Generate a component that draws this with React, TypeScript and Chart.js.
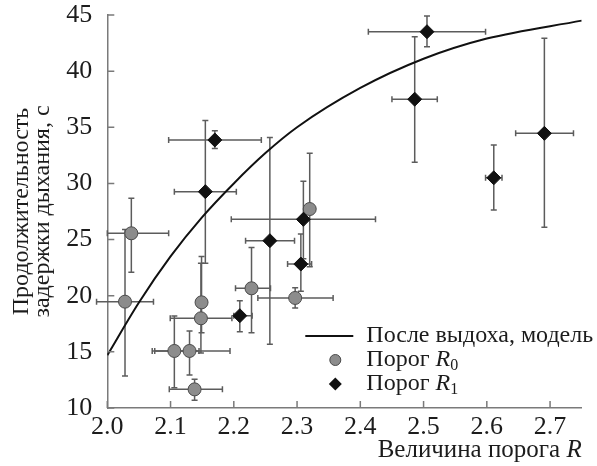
import React, { useEffect, useRef } from 'react';
import { Chart, registerables } from 'chart.js';

Chart.register(...registerables);

// ---- data ----
const xTicks = [2.0, 2.1, 2.2, 2.3, 2.4, 2.5, 2.6, 2.7];
const yTicks = [10, 15, 20, 25, 30, 35, 40, 45];

// model curve, points
const modelX = [2.0, 2.05, 2.1, 2.15, 2.2, 2.25, 2.3, 2.4, 2.5, 2.6, 2.75];
const modelY = [14.7, 19.4, 23.5, 27.0, 30.0, 32.7, 35.0, 38.5, 41.1, 42.9, 44.5];

// threshold R0 (grey circles)
const r0X = [2.028, 2.038, 2.106, 2.13, 2.138, 2.148, 2.149, 2.228, 2.297, 2.32];
const r0Y = [19.47, 25.56, 15.08, 15.08, 11.66, 17.99, 19.41, 20.66, 19.8, 27.72];
const r0XLo = [1.983, 2.0, 2.071, 2.075, 2.098, 2.0995, 2.142, 2.2027, 2.238, 2.312];
const r0XHi = [2.073, 2.097, 2.145, 2.194, 2.182, 2.197, 2.156, 2.258, 2.357, 2.328];
const r0YLo = [12.85, 22.08, 11.8, 12.94, 10.7, 14.9, 16.7, 16.7, 18.9, 22.58];
const r0YHi = [25.9, 28.67, 18.2, 16.86, 12.55, 22.9, 23.5, 24.3, 20.7, 32.68];

// threshold R1 (black diamonds)
const r1X = [2.155, 2.17, 2.2095, 2.257, 2.306, 2.31, 2.486, 2.5054, 2.611, 2.691];
const r1Y = [29.27, 33.87, 18.22, 24.9, 22.82, 26.8, 37.5, 43.51, 30.5, 34.46];
const r1XLo = [2.106, 2.097, 2.2, 2.2186, 2.285, 2.196, 2.45, 2.4127, 2.598, 2.6456];
const r1XHi = [2.204, 2.2435, 2.229, 2.296, 2.323, 2.424, 2.5217, 2.598, 2.624, 2.737];
const r1YLo = [22.9, 33.1, 16.8, 15.67, 20.4, 23.3, 31.88, 42.17, 27.63, 26.09];
const r1YHi = [35.6, 34.7, 19.56, 34.1, 25.5, 30.2, 43.07, 44.9, 33.42, 42.92];

const legendLabels = ['После выдоха, модель', 'Порог ', 'Порог '];
const legendVars = ['', 'R', 'R'];
const legendSubs = ['', '0', '1'];
const xTitleText = 'Величина порога ';
const xTitleVar = 'R';
const yTitleLines = ['Продолжительность', 'задержки дыхания, с'];

const FONT = "'Liberation Serif', 'DejaVu Serif', serif";
const TEXT = '#1c1c1c';
const AXIS = '#7a7a7a';
const BAR = '#5c5c5c';
const R0_FILL = '#8c8c8c';
const R0_EDGE = '#4a4a4a';
const R1_FILL = '#111111';

const toPts = (xs: number[], ys: number[]) => xs.map((x, i) => ({ x, y: ys[i] }));

const errorBarPlugin = {
  id: 'errorBars',
  beforeDatasetsDraw(chart: any) {
    const xs = chart.scales.x;
    const ys = chart.scales.y;
    const ctx = chart.ctx;
    const cap = 3;
    const series = [
      [r0X, r0Y, r0XLo, r0XHi, r0YLo, r0YHi],
      [r1X, r1Y, r1XLo, r1XHi, r1YLo, r1YHi],
    ];
    ctx.save();
    ctx.strokeStyle = BAR;
    ctx.lineWidth = 1.5;
    for (const [X, Y, XL, XH, YL, YH] of series) {
      for (let i = 0; i < X.length; i++) {
        const px = xs.getPixelForValue(X[i]);
        const py = ys.getPixelForValue(Y[i]);
        const x0 = xs.getPixelForValue(XL[i]);
        const x1 = xs.getPixelForValue(XH[i]);
        const y0 = ys.getPixelForValue(YL[i]);
        const y1 = ys.getPixelForValue(YH[i]);
        ctx.beginPath();
        ctx.moveTo(x0, py); ctx.lineTo(x1, py);
        ctx.moveTo(x0, py - cap); ctx.lineTo(x0, py + cap);
        ctx.moveTo(x1, py - cap); ctx.lineTo(x1, py + cap);
        ctx.moveTo(px, y0); ctx.lineTo(px, y1);
        ctx.moveTo(px - cap, y0); ctx.lineTo(px + cap, y0);
        ctx.moveTo(px - cap, y1); ctx.lineTo(px + cap, y1);
        ctx.stroke();
      }
    }
    ctx.restore();
  },
};

const inwardTicksPlugin = {
  id: 'inwardTicks',
  afterDraw(chart: any) {
    const { ctx, chartArea } = chart;
    const xs = chart.scales.x;
    const ys = chart.scales.y;
    const len = 7;
    ctx.save();
    ctx.strokeStyle = AXIS;
    ctx.lineWidth = 1.5;
    ctx.beginPath();
    for (const v of yTicks) {
      const py = ys.getPixelForValue(v);
      ctx.moveTo(chartArea.left, py);
      ctx.lineTo(chartArea.left + len, py);
    }
    for (const v of xTicks) {
      const px = xs.getPixelForValue(v);
      ctx.moveTo(px, chartArea.bottom);
      ctx.lineTo(px, chartArea.bottom - len);
    }
    ctx.stroke();
    ctx.restore();
  },
};

const textPlugin = {
  id: 'customText',
  afterDraw(chart: any) {
    const { ctx, chartArea } = chart;
    ctx.save();
    ctx.fillStyle = TEXT;
    ctx.textBaseline = 'middle';

    // x-axis title, right aligned at the end of the axis
    const tFont = `25px ${FONT}`;
    const tItal = `italic 25px ${FONT}`;
    const tyc = chartArea.bottom + 42;
    ctx.font = tItal;
    const wR = ctx.measureText(xTitleVar).width;
    ctx.textAlign = 'right';
    ctx.fillText(xTitleVar, chartArea.right, tyc);
    ctx.font = tFont;
    ctx.fillText(xTitleText, chartArea.right - wR, tyc);

    // legend
    const lx = chartArea.left + 198;
    const textX = chartArea.left + 259;
    const rows = [chartArea.bottom - 72, chartArea.bottom - 48, chartArea.bottom - 24];
    ctx.strokeStyle = '#111';
    ctx.lineWidth = 2;
    ctx.beginPath();
    ctx.moveTo(lx, rows[0]);
    ctx.lineTo(lx + 48, rows[0]);
    ctx.stroke();
    const mx = lx + 30;
    ctx.beginPath();
    ctx.arc(mx, rows[1], 5.5, 0, Math.PI * 2);
    ctx.fillStyle = R0_FILL;
    ctx.fill();
    ctx.lineWidth = 1;
    ctx.strokeStyle = R0_EDGE;
    ctx.stroke();
    ctx.beginPath();
    const d = 6.5;
    ctx.moveTo(mx, rows[2] - d);
    ctx.lineTo(mx + d, rows[2]);
    ctx.lineTo(mx, rows[2] + d);
    ctx.lineTo(mx - d, rows[2]);
    ctx.closePath();
    ctx.fillStyle = R1_FILL;
    ctx.fill();

    ctx.fillStyle = TEXT;
    ctx.textAlign = 'left';
    for (let i = 0; i < 3; i++) {
      let x = textX;
      ctx.font = `24px ${FONT}`;
      ctx.fillText(legendLabels[i], x, rows[i]);
      x += ctx.measureText(legendLabels[i]).width;
      if (legendVars[i]) {
        ctx.font = `italic 24px ${FONT}`;
        ctx.fillText(legendVars[i], x, rows[i]);
        x += ctx.measureText(legendVars[i]).width;
        ctx.font = `16px ${FONT}`;
        ctx.fillText(legendSubs[i], x, rows[i] + 6);
      }
    }
    ctx.restore();
  },
};

export default function App() {
  const ref = useRef<HTMLCanvasElement | null>(null);

  useEffect(() => {
    document.body.style.margin = '0';
    if (!ref.current) return;
    const chart = new Chart(ref.current, {
      type: 'scatter',
      data: {
        datasets: [
          {
            label: 'Порог R1',
            data: toPts(r1X, r1Y),
            pointStyle: 'rectRot',
            pointRadius: 7,
            backgroundColor: R1_FILL,
            borderColor: R1_FILL,
            borderWidth: 1,
            order: 0,
          },
          {
            label: 'Порог R0',
            data: toPts(r0X, r0Y),
            pointStyle: 'circle',
            pointRadius: 6.5,
            backgroundColor: R0_FILL,
            borderColor: R0_EDGE,
            borderWidth: 1,
            order: 1,
          },
          {
            type: 'line',
            label: legendLabels[0],
            data: toPts(modelX, modelY),
            borderColor: '#111',
            borderWidth: 2,
            pointRadius: 0,
            cubicInterpolationMode: 'monotone',
            fill: false,
            order: 2,
          } as any,
        ],
      },
      options: {
        animation: false,
        responsive: false,
        layout: { autoPadding: false, padding: { left: 0, right: 15.3, top: 15, bottom: 0 } },
        plugins: {
          legend: { display: false },
          tooltip: { enabled: false },
        },
        scales: {
          x: {
            type: 'linear',
            min: 2.0,
            max: 2.75,
            afterBuildTicks: (s: any) => { s.ticks = xTicks.map((v) => ({ value: v })); },
            afterFit: (s: any) => {
              s.height = 58;
              s.paddingLeft = 0;
              s.paddingRight = 0;
            },
            ticks: {
              color: TEXT,
              font: { family: FONT, size: 26 },
              padding: 4,
              maxRotation: 0,
              callback: (v: any) => Number(v).toFixed(1),
            },
            grid: { display: true, drawOnChartArea: false, drawTicks: false },
            border: { display: true, color: AXIS, width: 1.5 },
          },
          y: {
            type: 'linear',
            min: 10,
            max: 45,
            afterBuildTicks: (s: any) => { s.ticks = yTicks.map((v) => ({ value: v })); },
            afterFit: (s: any) => {
              s.width = 107.3;
              s.paddingTop = 0;
              s.paddingBottom = 0;
            },
            ticks: {
              color: TEXT,
              font: { family: FONT, size: 26 },
              padding: 15,
              callback: (v: any) => String(v),
            },
            grid: { display: true, drawOnChartArea: false, drawTicks: false },
            border: { display: true, color: AXIS, width: 1.5 },
            title: {
              display: true,
              text: yTitleLines,
              color: TEXT,
              font: { family: FONT, size: 24, lineHeight: 0.875 },
              padding: { top: 11, bottom: 0 },
            },
          },
        },
      },
      plugins: [errorBarPlugin, inwardTicksPlugin, textPlugin],
    });
    return () => chart.destroy();
  }, []);

  return (
    <div style={{ width: 597, height: 466 }}>
      <canvas ref={ref} width={597} height={466} style={{ display: 'block' }} />
    </div>
  );
}
